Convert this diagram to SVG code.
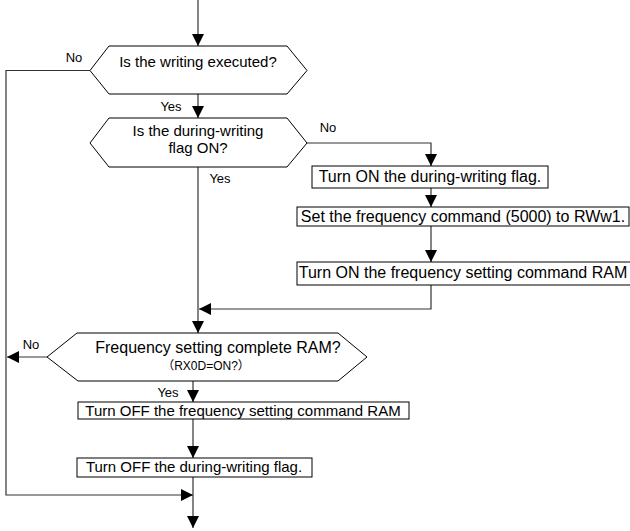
<svg xmlns="http://www.w3.org/2000/svg" width="630" height="531" viewBox="0 0 630 531">
<style>
.shape{fill:#fff;stroke:#000;stroke-width:1}
.line{fill:none;stroke:#333;stroke-width:1.2}
.t{font-family:"Liberation Sans",Arial,sans-serif;font-size:15px;fill:#000;text-anchor:middle}
.big{font-size:16px}
.lbl{font-family:"Liberation Sans",Arial,sans-serif;font-size:13px;fill:#000;text-anchor:middle}
.sm{font-family:"Liberation Sans","Noto Sans CJK JP",sans-serif;font-size:12px;fill:#000;text-anchor:middle}
</style>
<defs>
<marker id="ah" viewBox="0 0 12 12" refX="12" refY="6" markerWidth="12" markerHeight="12" markerUnits="userSpaceOnUse" orient="auto">
<path d="M0,0 L12,6 L0,12 z" fill="#000"/>
</marker>
</defs>
<rect width="630" height="531" fill="#fff"/>
<g id="connectors">
<path class="line" d="M198,0 V46" marker-end="url(#ah)"/>
<path class="line" d="M198,94 V118" marker-end="url(#ah)"/>
<path class="line" d="M90,70.5 H6 V495 H193" marker-end="url(#ah)"/>
<path class="line" d="M307,143 H431 V166" marker-end="url(#ah)"/>
<path class="line" d="M431,188 V207" marker-end="url(#ah)"/>
<path class="line" d="M431,226 V262" marker-end="url(#ah)"/>
<path class="line" d="M431,285 V309 H199" marker-end="url(#ah)"/>
<path class="line" d="M198,167 V333" marker-end="url(#ah)"/>
<path class="line" d="M47,357 H7" marker-end="url(#ah)"/>
<path class="line" d="M193,381 V402" marker-end="url(#ah)"/>
<path class="line" d="M193,419 V458" marker-end="url(#ah)"/>
<path class="line" d="M193,477 V528" marker-end="url(#ah)"/>
</g>
<g id="labels">
<text class="lbl" x="74" y="62">No</text>
<text class="lbl" x="171" y="111">Yes</text>
<text class="lbl" x="328" y="132">No</text>
<text class="lbl" x="220" y="183">Yes</text>
<text class="lbl" x="31" y="349">No</text>
<text class="lbl" x="168" y="397">Yes</text>
</g>
<g id="d1">
<polygon class="shape" points="90,70.5 109,46 287,46 307,70.5 287,94 109,94"/>
<text class="t" x="198" y="67">Is the writing executed?</text>
</g>
<g id="d2">
<polygon class="shape" points="90,143 109,118 287,118 307,143 287,167 109,167"/>
<text class="t" x="198" y="136">Is the during-writing</text>
<text class="t" x="198" y="153">flag ON?</text>
</g>
<g id="p1">
<rect class="shape" x="312" y="166" width="236" height="22"/>
<text class="t big" x="430" y="182">Turn ON the during-writing flag.</text>
</g>
<g id="p2">
<rect class="shape" x="297" y="207" width="332" height="19"/>
<text class="t big" x="463" y="222">Set the frequency command (5000) to RWw1.</text>
</g>
<g id="p3">
<rect class="shape" x="297" y="262" width="340" height="23"/>
<text class="t big" x="463" y="278">Turn ON the frequency setting command RAM</text>
</g>
<g id="d3">
<polygon class="shape" points="47,357 77,333 338,333 367,357 338,381 78,381"/>
<text class="t big" x="218" y="353">Frequency setting complete RAM?</text>
<text class="sm" x="206" y="370">（RX0D=ON?）</text>
</g>
<g id="p4">
<rect class="shape" x="78" y="402" width="331" height="17"/>
<text class="t" x="243" y="416">Turn OFF the frequency setting command RAM</text>
</g>
<g id="p5">
<rect class="shape" x="77" y="458" width="235" height="19"/>
<text class="t" x="194" y="472">Turn OFF the during-writing flag.</text>
</g>
</svg>
